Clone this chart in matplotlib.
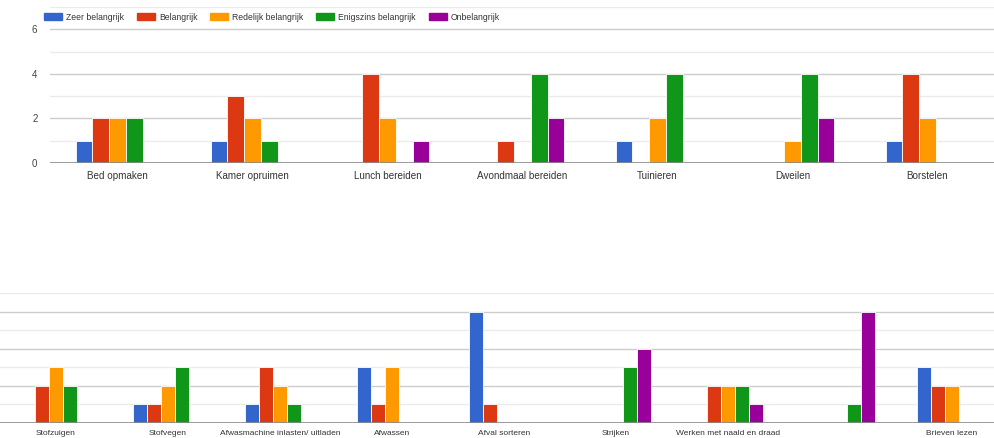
import matplotlib.pyplot as plt
import numpy as np

plt.rcParams['font.family'] = ['Liberation Sans', 'DejaVu Sans']

series = ["Zeer belangrijk", "Belangrijk", "Redelijk belangrijk",
          "Enigszins belangrijk", "Onbelangrijk"]
colors = ["#3366cc", "#dc3912", "#ff9900", "#109618", "#990099"]

# bovenste grafiek
top_cats = ["Bed opmaken", "Kamer opruimen", "Lunch bereiden",
            "Avondmaal bereiden", "Tuinieren", "Dweilen", "Borstelen"]
top_zeer = [1, 1, 0, 0, 1, 0, 1]
top_bel = [2, 3, 4, 1, 0, 0, 4]
top_red = [2, 2, 2, 0, 2, 1, 2]
top_enig = [2, 1, 0, 4, 4, 4, 0]
top_onb = [0, 0, 1, 2, 0, 2, 0]

# onderste grafiek
bot_cats = ["Stofzuigen", "Stofvegen", "Afwasmachine inlasten/ uitladen",
            "Afwassen", "Afval sorteren", "Strijken",
            "Werken met naald en draad", "", "Brieven lezen"]
bot_zeer = [0, 1, 1, 3, 6, 0, 0, 0, 3]
bot_bel = [2, 1, 3, 1, 1, 0, 2, 0, 2]
bot_red = [3, 2, 2, 3, 0, 0, 2, 0, 2]
bot_enig = [2, 3, 1, 0, 0, 3, 2, 1, 0]
bot_onb = [0, 0, 0, 0, 0, 4, 1, 6, 0]

top_data = [top_zeer, top_bel, top_red, top_enig, top_onb]
bot_data = [bot_zeer, bot_bel, bot_red, bot_enig, bot_onb]

W, H = 995, 438
fig = plt.figure(figsize=(W / 100, H / 100), dpi=100)

ax1 = fig.add_axes([50 / W, (H - 163) / H, 945 / W, 156 / H])
ax2 = fig.add_axes([0, (H - 423) / H, 1, 130 / H])

bar_w = 0.1236


def draw(ax, cats, data, xlim, label_size, label_pad):
    x = np.arange(len(cats))
    for i, vals in enumerate(data):
        ax.bar(x + (i - 2) * bar_w, vals, bar_w, color=colors[i],
               edgecolor="white", linewidth=0.6, zorder=3)
    ax.set_xlim(*xlim)
    ax.set_ylim(0, 7)
    for v in range(1, 8):
        c = "#cccccc" if v % 2 == 0 else "#ebebeb"
        ax.axhline(v, color=c, linewidth=1, zorder=1)
    ax.axhline(0, color="#8a8a8a", linewidth=1.2, zorder=4)
    ax.set_xticks(x)
    ax.set_xticklabels(cats, fontsize=label_size, color="#333333")
    ax.tick_params(axis="x", length=0, pad=label_pad)
    for s in ax.spines.values():
        s.set_visible(False)


draw(ax1, top_cats, top_data, (-0.5, 6.5), 7.1, 5.5)
draw(ax2, bot_cats, bot_data, (-0.5, -0.5 + W / 112), 6, 5)

ax1.set_yticks([0, 2, 4, 6])
ax1.set_yticklabels(["0", "2", "4", "6"], fontsize=7, color="#444444")
ax1.tick_params(axis="y", length=0, pad=9)
ax2.set_yticks([])

handles = [plt.Rectangle((0, 0), 1, 1, color=c) for c in colors]
fig.legend(handles, series, loc="center left",
           bbox_to_anchor=(44 / W, 1 - 17 / H), ncol=5, frameon=False,
           fontsize=6.2, handlelength=2.1, handleheight=0.85,
           handletextpad=0.45, columnspacing=1.5, borderpad=0,
           borderaxespad=0, labelcolor="#333333")

fig.savefig("out.png", dpi=100)
